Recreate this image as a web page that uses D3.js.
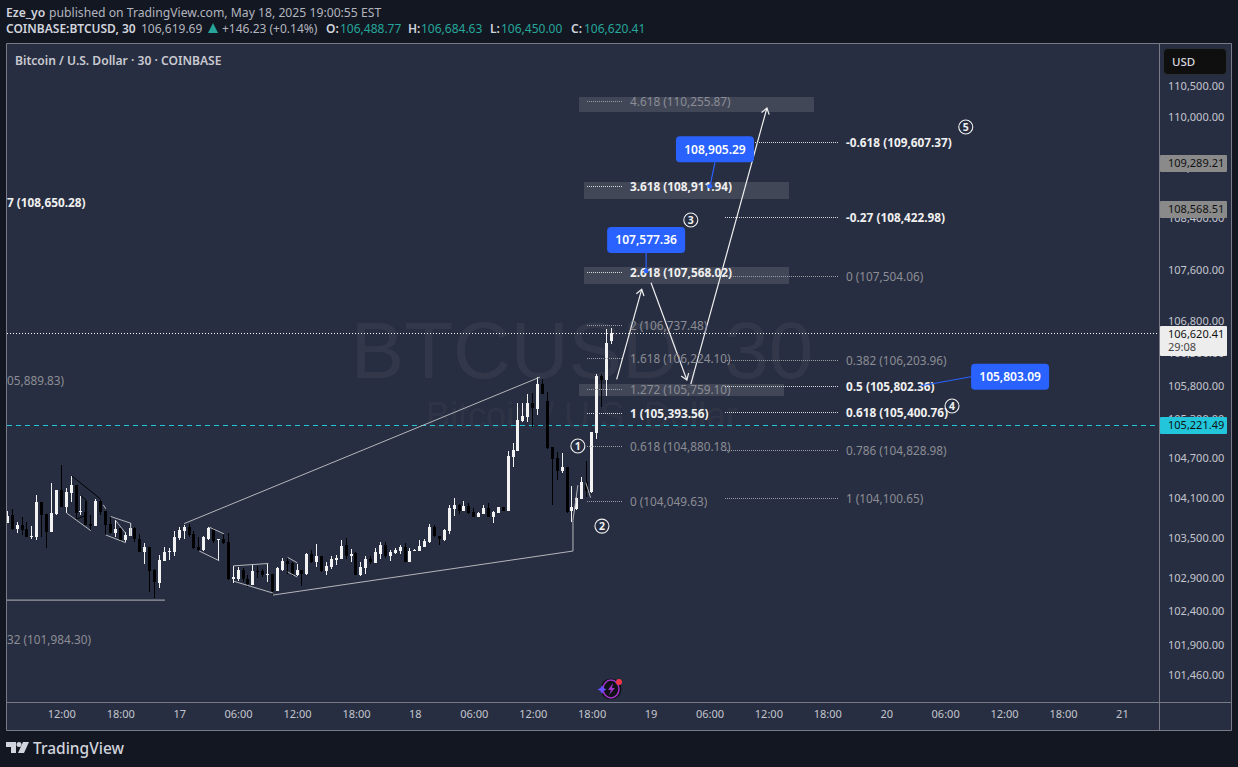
<!DOCTYPE html>
<html>
<head>
<meta charset="utf-8">
<script src="https://cdn.jsdelivr.net/npm/d3@7"></script>
<style>
  html, body { margin: 0; padding: 0; background: #131722; overflow: hidden; }
  text { font-family: "Noto Sans", sans-serif; }
</style>
</head>
<body>
<div id="chart"></div>
<script>
const W = 1238, H = 767

// 30 min bars, first bar is May 16 06:30
const opens = [103724,103839,103628,103688,103628,103502,103512,104035,103854,103583,103854,104217,103965,104166,104292,103885,103885,103703,103673,104051,103900,103703,103563,103638,103462,103522,103638,103477,103286,103356,103009,102823,103150,103281,103281,103487,103598,103658,103553,103356,103311,103472,103628,103457,103477,103427,102879,102884,103009,102884,102798,102999,102994,102939,102949,102708,103019,103145,103120,102934,103009,102949,103251,103130,103221,102999,103060,103160,103175,103387,103221,103271,102934,103039,103175,103125,103261,103387,103221,103266,103296,103356,103130,103301,103296,103356,103432,103658,103517,103462,103593,103930,103990,103900,103975,103885,103809,103854,103945,103809,103869,103960,103900,104720,104811,105264,105319,105534,105447,105829,105569,104862,104695,104509,104569,103899,103936,104079,104331,104190,105075,105952,105891,106488.77]
const highs = [103905,103930,103734,103804,103729,103673,104141,104035,103854,104317,104217,104594,104242,104428,104292,104126,104051,103839,104076,104066,103900,103804,103764,103638,103578,103713,103653,103548,103422,103356,103034,103246,103361,103351,103603,103653,103688,103703,103603,103502,103522,103653,103638,103477,103573,103563,103070,103060,103039,102934,103110,103070,103034,103120,102959,103060,103200,103200,103130,103110,103019,103276,103311,103402,103221,103135,103221,103236,103462,103487,103336,103281,103130,103231,103231,103341,103427,103432,103321,103341,103387,103417,103341,103331,103462,103477,103703,103688,103517,103628,103985,104096,104005,104051,104020,103940,103885,103990,104020,103900,103960,103960,104805,104923,105534,105534,105676,105686,105942,105901,105711,104862,104785,104771,104569,104281,104115,104406,104654,105091,105978,105983,106672,106684.63]
const lows = [103713,103613,103573,103537,103502,103472,103462,103512,103346,103583,103839,103965,103864,104040,103779,103839,103688,103613,103673,103839,103537,103548,103512,103437,103427,103522,103437,103286,103100,102692,102592,102743,103150,103160,103226,103462,103477,103512,103326,103296,103296,103462,103422,103150,103402,102869,102818,102858,102833,102758,102798,102894,102909,102833,102647,102708,102999,102959,102929,102919,102773,102934,103125,103060,102979,102934,103024,103085,103175,103175,103130,102934,102919,102959,103110,103115,103175,103190,103145,103261,103261,103130,103130,103296,103296,103356,103417,103502,103387,103447,103553,103824,103854,103900,103854,103809,103809,103854,103809,103719,103869,103900,103900,104569,104811,105254,105254,105177,105355,105676,104832,103989,104367,104468,103874,103738,103910,104079,104115,104165,104985,105483,105646,106450]
const closes = [103824,103628,103688,103613,103512,103522,104040,103844,103583,103869,104217,103965,104191,104292,103864,103900,103688,103673,104051,103880,103688,103573,103628,103462,103537,103638,103472,103286,103366,102999,102833,103160,103281,103296,103502,103613,103663,103537,103341,103311,103502,103638,103447,103477,103412,102884,102904,103009,102874,102808,102994,102984,102934,102949,102708,103045,103145,103100,102939,103009,102949,103251,103135,103221,102994,103070,103175,103190,103381,103226,103261,102934,103055,103175,103130,103286,103387,103221,103286,103311,103356,103130,103296,103311,103371,103447,103658,103522,103477,103613,103945,103990,103900,103975,103869,103809,103869,103945,103809,103885,103960,103900,104730,104822,105279,105340,105534,105457,105829,105676,104847,104690,104509,104569,103889,103954,104089,104331,104200,105091,105957,105891,106455,106620.41]

const priceTicks = [110500,110000,109200,108400,107600,106800,106300,105800,105300,104700,104100,103500,102900,102400,101900,101460]

// fib levels, label / price / bold
const fibLeftLabels = ["4.618","3.618","2.618","2","1.618","1.272","1","0.618","0"]
const fibLeftPrices = [110255.87,108911.94,107568.02,106737.48,106224.10,105759.10,105393.56,104880.18,104049.63]
const fibLeftBold = [0,1,1,0,0,0,1,0,0]
const fibRightLabels = ["-0.618","-0.27","0","0.382","0.5","0.618","0.786","1"]
const fibRightPrices = [109607.37,108422.98,107504.06,106203.96,105802.36,105400.76,104828.98,104100.65]
const fibRightBold = [1,1,0,0,1,1,0,0]

// fib labels cut off by the left edge
const cutLabels = ["7 (108,650.28)","05,889.83)","32 (101,984.30)"]
const cutPrices = [108650.28,105889.83,101984.30]
const cutBold = [1,0,0]

// drawings, points are [bar, price]
const greyLines = [
  [[36,103710],[108.5,105936]],
  [[54.1,102642],[115.2,103299]],
  [[-0.1,102567],[32.1,102567]],
  [[12.1,103868],[17,103605]],
  [[19.55,103993],[20.03,103933]],
  [[21.05,103817],[25.13,103717],[25.13,103525]],
  [[20.03,103540],[24.1,103424]],
  [[22.07,103756],[24.1,103566]],
  [[39.1,103299],[43.17,103153]],
  [[41.13,103657],[44.13,103556]],
  [[46,103077],[53.15,103113]],
  [[46.2,102846],[54.17,102670]],
  [[57.1,103204],[59.05,103123]],
  [[57.1,102987],[59.05,102911]],
  [[115.2,103299],[115.2,103760],[116.2,104290]],
  [[117.8,104330],[118.8,104100]]
]
const blackLines = [
  [[13.1,104431],[19,104079]],
  [[15.07,104129],[16.16,104054],[16.16,103842],[14.25,103782]]
]
const waveArrows = [
  [[124.1,105901],[129.2,107292]],
  [[131.1,107394],[138.4,105891]],
  [[139.2,105829],[154.7,110148]]
]
const waveLabels = ["1","2","3","4","5"]
const waveBars = [116.2,121.1,139.2,192.4,195.2]
const wavePrices = [104883,103673,108375,105493,109846]

// blue price notes
const noteValues = [108905.29,107577.36,105803.09]
const noteBars = [143.1,130.1,186.1]
const noteOffsets = [[5,-24],[0,-18],[50,-9]]

const svg = d3.select("#chart").append("svg")
  .attr("width", W)
  .attr("height", H)
  .style("display", "block")

svg.append("rect").attr("width", W).attr("height", H).attr("fill", "#131722")

const panelColor = "#282e41"
const borderColor = "#787b86"
const dimText = "#8b8d95"
const brightText = "#f0f0f0"

// panes
svg.append("rect").attr("x", 7).attr("y", 44).attr("width", 1224).attr("height", 686).attr("fill", panelColor)

const defs = svg.append("defs")
defs.append("clipPath").attr("id", "plotClip").append("rect")
  .attr("x", 7).attr("y", 44).attr("width", 1152).attr("height", 658)

// scales, price axis is logarithmic
const t0 = Date.UTC(2025, 4, 16, 6, 30)
const halfHour = 30 * 60 * 1000
const barTime = i => new Date(t0 + i * halfHour)
const xTime = d3.scaleUtc()
  .domain([barTime(0), barTime(200)])
  .range([7.33, 7.33 + 200 * 4.91])
const xBar = i => xTime(barTime(i))
const y = d3.scaleLog().domain([110500, 101460]).range([86, 675])

const plot = svg.append("g").attr("clip-path", "url(#plotClip)")

// watermark
plot.append("text").attr("x", 582).attr("y", 378)
  .attr("text-anchor", "middle").attr("font-size", 80)
  .style("font-family", "Liberation Sans")
  .attr("fill", "#ffffff").attr("fill-opacity", 0.05)
  .text("BTCUSD, 30")
plot.append("text").attr("x", 582).attr("y", 428)
  .attr("text-anchor", "middle").attr("font-size", 36)
  .style("font-family", "Liberation Sans")
  .attr("fill", "#ffffff").attr("fill-opacity", 0.05)
  .text("Bitcoin / U.S. Dollar")

// last price lines
const closeLine = 106620.41, cyanLine = 105221.49
plot.append("line").attr("x1", 7).attr("x2", 1159)
  .attr("y1", Math.round(y(closeLine)) + 0.5).attr("y2", Math.round(y(closeLine)) + 0.5)
  .attr("stroke", "#ffffff").attr("stroke-dasharray", "1 2")
plot.append("line").attr("x1", 7).attr("x2", 1159)
  .attr("y1", Math.round(y(cyanLine)) + 1.5).attr("y2", Math.round(y(cyanLine)) + 1.5)
  .attr("stroke", "#22c5da").attr("stroke-dasharray", "5 4")

// fib boxes, top is relative to the level
const fibBoxes = [
  { price: 110255.87, x: 579, w: 235, top: -4, h: 15 },
  { price: 108911.94, x: 584, w: 205, top: -3.5, h: 17 },
  { price: 107568.02, x: 584, w: 205, top: -4.5, h: 17 },
  { price: 105759.10, x: 579, w: 205, top: -5, h: 12 }
]
plot.selectAll(".fibBox").data(fibBoxes).join("rect")
  .attr("class", "fibBox")
  .attr("x", d => d.x).attr("width", d => d.w)
  .attr("y", d => Math.round(y(d.price) + d.top)).attr("height", d => d.h)
  .attr("fill", "#ffffff").attr("fill-opacity", 0.12)

// candles
const candles = d3.range(opens.length)
const bodyTop = i => Math.round(y(Math.max(opens[i], closes[i])))
const bodyBot = i => Math.round(y(Math.min(opens[i], closes[i])))
const candleColor = i => closes[i] >= opens[i] ? "#f2f2f2" : "#000000"

plot.selectAll(".wick").data(candles).join("rect")
  .attr("class", "wick")
  .attr("x", i => Math.floor(xBar(i)))
  .attr("width", 1)
  .attr("y", i => Math.round(y(highs[i])))
  .attr("height", i => Math.max(1, Math.round(y(lows[i])) - Math.round(y(highs[i]))))
  .attr("fill", candleColor)
plot.selectAll(".body").data(candles).join("rect")
  .attr("class", "body")
  .attr("x", i => Math.floor(xBar(i)) - 1)
  .attr("width", 3)
  .attr("y", bodyTop)
  .attr("height", i => Math.max(1, bodyBot(i) - bodyTop(i)))
  .attr("fill", candleColor)

// trend lines
const lineGen = d3.line().x(d => xBar(d[0])).y(d => y(d[1]))
plot.selectAll(".grey").data(greyLines).join("path")
  .attr("class", "grey").attr("d", lineGen)
  .attr("fill", "none").attr("stroke", "#b4b6bb").attr("stroke-width", 1)
plot.selectAll(".black").data(blackLines).join("path")
  .attr("class", "black").attr("d", lineGen)
  .attr("fill", "none").attr("stroke", "#000000").attr("stroke-width", 1)

// wave arrows
const addArrow = (pts) => {
  plot.append("path").attr("d", lineGen(pts))
    .attr("fill", "none").attr("stroke", "#f0f0f0").attr("stroke-width", 1.2)
  const x1 = xBar(pts[0][0]), y1 = y(pts[0][1])
  const x2 = xBar(pts[1][0]), y2 = y(pts[1][1])
  const a = Math.atan2(y2 - y1, x2 - x1)
  const barb = s => [x2 - 7 * Math.cos(a + s), y2 - 7 * Math.sin(a + s)]
  plot.append("path")
    .attr("d", d3.line()([barb(0.6), [x2, y2], barb(-0.6)]))
    .attr("fill", "none").attr("stroke", "#f0f0f0").attr("stroke-width", 1.2)
}
waveArrows.forEach(addArrow)

// fib levels
const addFib = (labels, prices, bold, x1, x2, tx) => {
  labels.forEach((label, i) => {
    const ly = Math.round(y(prices[i])) + 0.5
    plot.append("line").attr("x1", x1).attr("x2", x2).attr("y1", ly).attr("y2", ly)
      .attr("stroke", bold[i] ? "#d8d8d8" : "#9a9ca3")
      .attr("stroke-dasharray", "1 1")
    plot.append("text").attr("x", tx).attr("y", ly + 4.5)
      .attr("font-size", 11.8)
      .attr("font-weight", bold[i] ? 700 : 400)
      .attr("fill", bold[i] ? brightText : dimText)
      .text(label + " (" + d3.format(",.2f")(prices[i]) + ")")
  })
}
addFib(fibLeftLabels, fibLeftPrices, fibLeftBold, 587, 622, 630)
addFib(fibRightLabels, fibRightPrices, fibRightBold, 725, 838, 846)

plot.selectAll(".cut").data(cutLabels).join("text")
  .attr("class", "cut")
  .attr("x", 7)
  .attr("y", (d, i) => y(cutPrices[i]) + 4.5)
  .attr("font-size", 11.8)
  .attr("font-weight", (d, i) => cutBold[i] ? 700 : 400)
  .attr("fill", (d, i) => cutBold[i] ? brightText : dimText)
  .text(d => d)

// circled wave numbers
waveLabels.forEach((label, i) => {
  const g = plot.append("g").attr("transform", `translate(${xBar(waveBars[i])},${y(wavePrices[i])})`)
  g.append("circle").attr("r", 7).attr("fill", "none").attr("stroke", "#f0f0f0").attr("stroke-width", 1.1)
  g.append("text").attr("text-anchor", "middle").attr("y", 3.8)
    .attr("font-size", 10.5).attr("font-weight", 700).attr("fill", "#f0f0f0").text(label)
})

// blue notes
noteValues.forEach((value, i) => {
  const ax = xBar(noteBars[i]), ay = y(value)
  const bx = ax + noteOffsets[i][0], by = ay + noteOffsets[i][1]
  plot.append("line").attr("x1", ax).attr("y1", ay).attr("x2", bx).attr("y2", by)
    .attr("stroke", "#2962ff").attr("stroke-width", 1.2)
  if (i < 2) plot.append("circle").attr("cx", ax).attr("cy", ay).attr("r", 2.3).attr("fill", "#2962ff")
  const bw = 78, bh = 26
  const left = i === 2 ? bx : bx - bw / 2
  const top = i === 2 ? by - bh / 2 : by - bh
  plot.append("rect").attr("x", left).attr("y", top).attr("width", bw).attr("height", bh)
    .attr("rx", 4).attr("fill", "#2962ff")
  plot.append("text").attr("x", left + bw / 2).attr("y", top + bh / 2 + 4.2)
    .attr("text-anchor", "middle").attr("font-size", 12).attr("font-weight", 600)
    .attr("fill", "#ffffff").text(d3.format(",.2f")(value))
})

// spark icon
const spark = plot.append("g").attr("transform", "translate(611,689)")
spark.append("circle").attr("r", 10.5).attr("fill", "#111218")
spark.append("ellipse").attr("rx", 8).attr("ry", 9).attr("fill", "none").attr("stroke", "#a033c8").attr("stroke-width", 1.5)
spark.append("path").attr("d", "M2,-6 L-3,1 L0,1 L-2,6 L4,-1 L1,-1 Z").attr("fill", "#a033c8")
spark.append("path").attr("d", "M-9,-4 L-7.5,-1 L-4.5,0.5 L-7.5,2 L-9,5 L-10.5,2 L-13.5,0.5 L-10.5,-1 Z").attr("fill", "#6a4cff")
spark.append("circle").attr("cx", 8).attr("cy", -7).attr("r", 3).attr("fill", "#f23645")

// price axis
const priceAxis = svg.append("g")
  .attr("transform", "translate(1160,0)")
  .call(d3.axisRight(y).tickValues(priceTicks).tickSize(0).tickPadding(8).tickFormat(d3.format(",.2f")))
priceAxis.select(".domain").remove()
priceAxis.selectAll("text").attr("font-size", 11).attr("fill", "#c3c6ce").style("font-family", '"Noto Sans", sans-serif')

// time axis
const timeTicks = d3.utcHour.every(6).range(new Date(Date.UTC(2025, 4, 16, 12)), new Date(Date.UTC(2025, 4, 21, 1)))
const timeAxis = svg.append("g")
  .attr("transform", "translate(0,702)")
  .call(d3.axisBottom(xTime).tickValues(timeTicks).tickSize(0).tickPadding(8)
    .tickFormat(d => d.getUTCHours() === 0 ? d3.utcFormat("%-d")(d) : d3.utcFormat("%H:%M")(d)))
timeAxis.select(".domain").remove()
timeAxis.selectAll("text").attr("font-size", 11).attr("fill", "#c3c6ce").style("font-family", '"Noto Sans", sans-serif')

// price tags on the axis
const tags = [
  { price: 109289.21, bg: "#8a8a8a", fg: "#111111", h: 17 },
  { price: 108568.51, bg: "#8a8a8a", fg: "#111111", h: 17 },
  { price: 105221.49, bg: "#22c5da", fg: "#111111", h: 17 }
]
tags.forEach(t => {
  const ty = Math.round(y(t.price))
  svg.append("rect").attr("x", 1160).attr("y", ty - 7).attr("width", 67).attr("height", t.h).attr("rx", 1).attr("fill", t.bg)
  svg.append("text").attr("x", 1168).attr("y", ty + 5).attr("font-size", 11).attr("fill", t.fg)
    .text(d3.format(",.2f")(t.price))
})
svg.append("rect").attr("x", 1160).attr("y", 326).attr("width", 67).attr("height", 30).attr("rx", 1).attr("fill", "#ededed")
svg.append("text").attr("x", 1168).attr("y", 338).attr("font-size", 11).attr("fill", "#111111").text("106,620.41")
svg.append("text").attr("x", 1168).attr("y", 351).attr("font-size", 11).attr("fill", "#444444").text("29:08")

// USD button
svg.append("rect").attr("x", 1163.5).attr("y", 48.5).attr("width", 63).attr("height", 26).attr("rx", 4)
  .attr("fill", "#0f0f0f").attr("stroke", "#2a2e39")
svg.append("text").attr("x", 1172).attr("y", 65.5).attr("font-size", 11.5).attr("font-weight", 500).attr("fill", "#d6d8de").text("USD")

// borders
const frame = [[6.5, 43.5, 1231.5, 43.5], [1231.5, 43.5, 1231.5, 730.5], [1231.5, 730.5, 6.5, 730.5], [6.5, 730.5, 6.5, 43.5], [1159.5, 43.5, 1159.5, 730.5], [6.5, 702.5, 1231.5, 702.5]]
svg.selectAll(".frame").data(frame).join("line")
  .attr("class", "frame")
  .attr("x1", d => d[0]).attr("y1", d => d[1]).attr("x2", d => d[2]).attr("y2", d => d[3])
  .attr("stroke", borderColor)

// header
const head = (x, yy, txt, fill, weight, size) => svg.append("text").attr("x", x).attr("y", yy)
  .attr("font-size", size || 12).attr("font-weight", weight || 400).attr("fill", fill).text(txt)
const hdr = "#b2b5be", up = "#26a69a"
head(6, 17, "Eze_yo", "#d1d4dc", 600, 12.2)
head(49, 17, "published on TradingView.com, May 18, 2025 19:00:55 EST", hdr, 400, 12.2)
head(6, 33, "COINBASE:BTCUSD, 30", "#d1d4dc", 600)
head(141, 33, "106,619.69", hdr)
svg.append("path").attr("d", "M208,33 L213,23 L218,33 Z").attr("fill", up)
head(222, 33, "+146.23 (+0.14%)", hdr)
head(326, 33, "O:", "#d1d4dc", 600)
head(340, 33, "106,488.77", up)
head(408, 33, "H:", "#d1d4dc", 600)
head(421, 33, "106,684.63", up)
head(490, 33, "L:", "#d1d4dc", 600)
head(501, 33, "106,450.00", up)
head(571, 33, "C:", "#d1d4dc", 600)
head(584, 33, "106,620.41", up)
head(15, 65, "Bitcoin / U.S. Dollar · 30 · COINBASE", "#c8cad1", 600, 12.1)

// logo
const logo = svg.append("g").attr("fill", "#d1d4dc")
logo.append("path").attr("d", "M6,742 H16 V753 H11 V747 H6 Z")
logo.append("circle").attr("cx", 19).attr("cy", 744.5).attr("r", 2.5)
logo.append("path").attr("d", "M23,742 H29 L24,753 H18 Z")
svg.append("text").attr("x", 33).attr("y", 754).attr("font-size", 15.5).attr("font-weight", 500).attr("fill", "#d1d4dc").text("TradingView")
</script>
</body>
</html>
